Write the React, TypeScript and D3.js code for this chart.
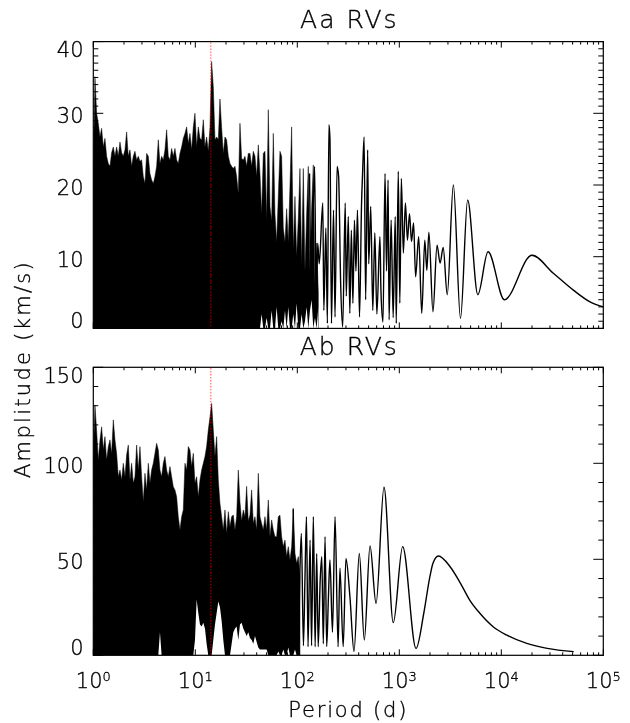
import React from "react";
import * as d3 from "d3";

// ---------- data ----------
// sampled periods (days) of the dense short-period part of both periodograms
const densePeriods = [
  1.000, 1.038, 1.078, 1.119, 1.162, 1.207, 1.253, 1.301, 1.351, 1.403,
  1.457, 1.512, 1.571, 1.631, 1.693, 1.758, 1.826, 1.896, 1.968, 2.044,
  2.122, 2.203, 2.288, 2.376, 2.467, 2.561, 2.660, 2.762, 2.867, 2.977,
  3.091, 3.210, 3.333, 3.461, 3.593, 3.731, 3.874, 4.023, 4.177, 4.337,
  4.503, 4.676, 4.855, 5.041, 5.235, 5.435, 5.644, 5.860, 6.085, 6.318,
  6.561, 6.812, 7.073, 7.345, 7.626, 7.918, 8.222, 8.537, 8.865, 9.205,
  9.558, 9.925, 10.31, 10.70, 11.11, 11.54, 11.98, 12.44, 12.91, 13.41,
  13.93, 14.46, 15.01, 15.59, 16.19, 16.81, 17.45, 18.12, 18.82, 19.54,
  20.29, 21.07, 21.88, 22.71, 23.58, 24.49, 25.42, 26.40, 27.41, 28.46,
  29.55, 30.69, 31.86, 33.08, 34.35, 35.67, 37.04, 38.46, 39.93, 41.46,
  43.05, 44.70, 46.42, 48.20, 50.05, 51.96, 53.96, 56.03, 58.17, 60.40,
  62.72, 65.12, 67.62, 70.21, 72.90, 75.70, 78.60, 81.61, 84.74, 87.99,
  91.36, 94.87, 98.51, 102.3, 106.2, 110.3, 114.5, 118.9, 123.5, 128.2,
  133.1, 138.2, 143.5, 149.0, 154.7, 160.7,
];

// Aa RVs: upper envelope of the dense part (km/s)
const aaUpper = [
  22, 35.1, 30.0, 28.6, 26.7, 27.9, 25.3, 26.5, 24.0, 23.0,
  22.6, 24.5, 25.3, 24.0, 25.3, 24.0, 26.0, 24.5, 24.0, 24.9,
  27.4, 24.0, 24.9, 22.6, 24.0, 24.7, 23.5, 24.0, 23.3, 23.5,
  21.2, 20.2, 24.4, 24.0, 21.6, 20.7, 20.2, 21.2, 22.6, 26.3,
  23.0, 24.0, 23.5, 24.9, 27.7, 24.0, 23.5, 25.1, 24.0, 25.1,
  23.5, 23.0, 24.4, 25.3, 26.5, 27.2, 28.1, 25.8, 27.2, 24.9,
  28.1, 30.0, 25.3, 28.1, 26.5, 26.3, 29.1, 25.3, 26.7, 24.7,
  28.0, 37.2, 33.7, 26.3, 26.7, 26.3, 32.0, 28.0, 24.4, 26.7,
  26.3, 24.0, 23.0, 22.6, 22.3, 22.6, 21.2, 18.8, 28.6, 23.7,
  23.5, 24.0, 22.6, 24.4, 24.4, 22.6, 24.7, 24.0, 21.2, 25.6,
  21.6, 16, 24.4, 24.7, 15, 30.5, 17, 15, 27.2, 16,
  12, 18.4, 24.7, 24.0, 14, 12, 16.7, 12, 19.8, 28.1,
  11, 18.4, 10, 15.3, 22.3, 9, 22.3, 8, 16.0, 22.6,
  8, 16.7, 22.8, 6, 11.9, 5,
];
// Aa RVs: height of the white gaps at the bottom of the dense part (km/s)
const aaGaps = [
  0, 0, 0, 0, 0, 0, 0, 0, 0, 0,
  0, 0, 0, 0, 0, 0, 0, 0, 0, 0,
  0, 0, 0, 0, 0, 0, 0, 0, 0, 0,
  0, 0, 0, 0, 0, 0, 0, 0, 0, 0,
  0, 0, 0, 0, 0, 0, 0, 0, 0, 0,
  0, 0, 0, 0, 0, 0, 0, 0, 0, 0,
  0, 0, 0, 0, 0, 0, 0, 0, 0, 0,
  0, 0, 0, 0, 0, 0, 0, 0, 0, 0,
  0, 0, 0, 0, 0, 0, 0, 0, 0, 0,
  0, 0, 0, 0, 0, 0, 0, 0, 0, 0,
  0, 2, 0, 0, 1.5, 0, 0, 2.5, 0, 0,
  3, 0, 0, 1, 0, 2.5, 0, 3, 0, 0,
  2, 0, 3.5, 0, 0, 2, 0, 1, 3, 0,
  2.5, 4, 0, 1.5, 0, 3,
];
// Aa RVs: long-period part (resolved peaks and troughs)
const aaLinePeriods = [
  131.8, 138.0, 142.9, 147.9, 153.1, 158.5, 164.1, 177.8, 182.0, 190.5,
  197.2, 204.2, 208.9, 216.3, 226.5, 234.4, 245.5, 254.1, 266.1, 278.6,
  295.1, 302.0, 316.2, 327.3, 338.8, 350.8, 363.1, 375.8, 389.0, 407.4,
  426.6, 436.5, 451.9, 467.7, 489.8, 501.2, 524.8, 549.5, 575.4, 602.6,
  645.7, 660.7, 691.8, 724.4, 749.9, 776.2, 794.3, 831.8, 871.0, 912.0,
  933.3, 977.2, 1012, 1047, 1096, 1148, 1202, 1259, 1318, 1380,
  1445, 1549, 1660, 1778, 1862, 1950, 2138, 2344, 2512, 2692,
  2951, 3388, 3981, 4677, 5888, 7413, 10715, 19953, 32359, 51286,
  74131, 100000,
];
const aaLineAmps = [
  21.6, 4, 16, 22.6, 2.5, 11.9, 9, 17.5, 2.5, 14,
  0.7, 28.4, 26.5, 0.7, 16.5, 1.6, 22.6, 21.2, 6.3, 0.2,
  17.5, 4.5, 15.6, 2.1, 13.7, 3.5, 15.1, 8.0, 16.5, 1.6,
  17.5, 21.6, 26.7, 4, 24.9, 9, 17, 2.5, 13.3, 2,
  12.8, 5.3, 0.9, 21.6, 8, 20.7, 1.2, 15.1, 1.5, 15.6,
  0.7, 21.9, 3.5, 20.9, 10.5, 17.5, 12.3, 16.0, 12.1, 14.7,
  7.2, 12.8, 2.1, 12.3, 8.1, 13.4, 2.3, 11.6, 9.1, 11.3,
  4.7, 20.0, 1.4, 17.9, 4.7, 10.7, 4.0, 10.2, 7.7, 5.3,
  3.7, 3.0,
];

// Ab RVs: upper envelope of the dense part (km/s), first 125 periods
const abUpper = [
  103.5, 130.4, 117, 101.7, 112, 119, 107, 113.9, 101.7, 108.6,
  112.2, 105, 122.6, 112.2, 105.2, 93, 96.5, 91.3, 100, 93,
  104.3, 109.5, 91.3, 100, 89.6, 93, 109.5, 96.5, 108.7, 93,
  80, 94.8, 86.1, 100, 89.6, 96.5, 100, 105.2, 110.4, 106.9,
  96.5, 93, 100, 103.5, 96.5, 93, 98.3, 93, 87.8, 86.1,
  82.6, 72.2, 65.3, 72.2, 75.7, 100, 96.5, 108.7, 106.9, 98.3,
  105.2, 89.6, 93, 82.6, 91.3, 96.5, 100, 103.5, 108.7, 117.3,
  124, 131.2, 117.3, 103.5, 113.9, 91.3, 79.1, 72.2, 65.3, 75.7,
  63.5, 74.8, 67.0, 72.2, 73.1, 65.3, 72.2, 96.5, 80, 70,
  75.7, 72.2, 88, 70, 73.1, 86.1, 68.7, 72.2, 65.3, 94.8,
  72.2, 68.7, 65.3, 72.2, 65.3, 80.9, 61.8, 70.5, 65.3, 61.8,
  61.8, 72.2, 73, 61.8, 56.6, 60, 51.4, 56.6, 49.6, 56.6,
  75.7, 53.1, 47.9, 51.4, 40.9,
];
// Ab RVs: height of the white gaps at the bottom of the dense part (km/s)
const abGaps = [
  0, 0, 0, 0, 0, 0, 0, 0, 0, 0,
  0, 0, 0, 0, 0, 0, 0, 0, 0, 0,
  0, 0, 0, 0, 0, 0, 0, 0, 0, 0,
  0, 0, 0, 0, 0, 0, 0, 0, 0, 0,
  12, 0, 0, 0, 0, 0, 0, 0, 0, 0,
  0, 0, 0, 0, 0, 0, 0, 0, 0, 0,
  0, 8, 29, 22, 16, 15, 17, 14, 6, 0,
  0, 0, 8, 16, 22, 28, 25, 18, 8, 0,
  0, 0, 0, 6, 12, 14, 15, 8, 16, 17,
  14, 12, 10, 12, 9, 8, 6, 10, 7, 4,
  3, 3, 3, 3, 3, 0, 0, 0, 0, 0,
  0, 2, 0, 0, 3, 0, 0, 4, 0, 0,
  0, 3, 0, 0, 0,
];
// Ab RVs: long-period part
const abLinePeriods = [
  91.2, 94.4, 97.7, 102.3, 106.2, 109.6, 114.8, 118.9, 123.0, 127.4,
  133.4, 138.0, 143.6, 149.6, 154.9, 160.3, 167.9, 173.8, 179.9, 187.1,
  194.1, 201.8, 208.9, 221.3, 234.4, 251.2, 261.8, 281.8, 299.9, 328.1,
  359.7, 405.5, 453.9, 516.4, 591.6, 707.9, 873.0, 1079, 1459, 1738,
  1995, 2138, 2415, 3162, 3981, 4898, 6166, 8318, 11220, 17783,
  28184, 51286,
];
const abLineAmps = [
  76.5, 20, 41, 4.5, 45, 63.5, 5, 40, 72.2, 4.5,
  60, 5, 72.2, 4.5, 53, 4.5, 40, 51.4, 6, 61.8,
  4.5, 30, 49.6, 12, 72.2, 4.5, 45.3, 4.5, 50.5, 30.5,
  1.9, 53, 8, 57, 27, 87.5, 17, 56.6, 3.6, 21.9,
  41, 48, 51.7, 46, 37.5, 28.8, 21.9, 14.9, 10.6, 6.2,
  3.6, 1.9,
];

const markedPeriod = 14.2;
const aaTicks = [0, 10, 20, 30, 40];
const abTicks = [0, 50, 100, 150];
const xTickExponents = [0, 1, 2, 3, 4, 5];

// ---------- layout ----------
const W = 630;
const H = 723;
const X0 = 93.3;
const X1 = 603.3;
const FONT = "'DejaVu Sans', 'Liberation Sans', sans-serif";
const TXT = { fontFamily: FONT, fontWeight: 200, fill: "#000", stroke: "#000", strokeWidth: 0.35 };

const x = d3.scaleLog().domain([1, 1e5]).range([X0, X1]);

type PanelProps = {
  id: string;
  top: number;
  bottom: number;
  yMax: number;
  minorStep: number;
  yTicks: number[];
  upper: number[];
  gaps: number[];
  linePeriods: number[];
  lineAmps: number[];
  title: string;
  titleBaseline: number;
  xLabels: boolean;
};

function Panel(p: PanelProps) {
  const y = d3.scaleLinear().domain([0, p.yMax]).range([p.bottom, p.top]);
  const area = d3
    .area<number>()
    .x((_, i) => x(densePeriods[i]))
    .y0(y(0))
    .y1((d) => y(d));
  const line = d3
    .line<number>()
    .x((_, i) => x(p.linePeriods[i]))
    .y((d) => y(d))
    .curve(d3.curveMonotoneX);

  const xt = x.ticks();
  const isMajor = (t: number) => Math.abs(Math.log10(t) - Math.round(Math.log10(t))) < 1e-9;
  const yMinor = d3.range(0, p.yMax + 1e-9, p.minorStep);
  const yMajLen = 10;
  const yMinLen = 5;
  const xMajLen = 6;
  const xMinLen = 3;
  const cx = (X0 + X1) / 2;

  return (
    <g>
      <defs>
        <clipPath id={`clip-${p.id}`}>
          <rect x={X0} y={p.top} width={X1 - X0} height={p.bottom - p.top} />
        </clipPath>
      </defs>
      <g clipPath={`url(#clip-${p.id})`}>
        <path d={area(p.upper) || ""} fill="#000" stroke="#000" strokeWidth={0.5} />
        <path d={area(p.gaps) || ""} fill="#fff" stroke="none" />
        <path d={line(p.lineAmps) || ""} fill="none" stroke="#000" strokeWidth={1.4} />
      </g>
      {/* frame */}
      <rect x={X0} y={p.top} width={X1 - X0} height={p.bottom - p.top} fill="none" stroke="#000" strokeWidth={1.2} />
      {/* x ticks on top and bottom */}
      {xt.map((t, i) => {
        const L = isMajor(t) ? xMajLen : xMinLen;
        const xx = x(t);
        return (
          <g key={`xt${i}`} stroke="#000" strokeWidth={1}>
            <line x1={xx} x2={xx} y1={p.bottom} y2={p.bottom - L} />
            <line x1={xx} x2={xx} y1={p.top} y2={p.top + L} />
          </g>
        );
      })}
      {/* y ticks on left and right */}
      {yMinor.map((v, i) => {
        const L = p.yTicks.some((t) => Math.abs(t - v) < 1e-9) ? yMajLen : yMinLen;
        const yy = y(v);
        return (
          <g key={`yt${i}`} stroke="#000" strokeWidth={1}>
            <line x1={X0} x2={X0 + L} y1={yy} y2={yy} />
            <line x1={X1} x2={X1 - L} y1={yy} y2={yy} />
          </g>
        );
      })}
      {/* marked period */}
      <line
        x1={x(markedPeriod)}
        x2={x(markedPeriod)}
        y1={p.top + 1}
        y2={p.bottom - 1}
        stroke="#ff0000"
        strokeWidth={1}
        strokeDasharray="1 2"
      />
      <g filter="url(#gray)">
        {/* y tick labels */}
        {p.yTicks.map((t, i) => {
          let base = y(t) + 10.1;
          if (i === p.yTicks.length - 1) base = p.top + 15.4;
          if (i === 0) base = p.bottom - 0.3;
          return (
            <text key={`yl${i}`} x={83.5} y={base} textAnchor="end" fontSize={21} {...TXT}>
              {t}
            </text>
          );
        })}
        {/* title */}
        <text x={cx + 1} y={p.titleBaseline} textAnchor="middle" fontSize={25} letterSpacing={2} {...TXT}>
          {p.title}
        </text>
        {p.xLabels &&
          xTickExponents.map((e) => (
            <text key={`xl${e}`} x={x(Math.pow(10, e))} y={688} textAnchor="middle" fontSize={21} {...TXT}>
              <tspan>10</tspan>
              <tspan dy={-7.5} fontSize={13}>
                {e}
              </tspan>
            </text>
          ))}
      </g>
    </g>
  );
}

export default function App() {
  return (
    <svg
      width={W}
      height={H}
      viewBox={`0 0 ${W} ${H}`}
      style={{ position: "absolute", left: 0, top: 0, background: "#fff" }}
    >
      <defs>
        <filter id="gray" x="-5%" y="-20%" width="110%" height="140%">
          <feColorMatrix type="saturate" values="0" />
        </filter>
      </defs>
      <rect x={0} y={0} width={W} height={H} fill="#fff" />
      <Panel
        id="aa"
        top={41.6}
        bottom={328.4}
        yMax={40}
        minorStep={1}
        yTicks={aaTicks}
        upper={aaUpper}
        gaps={aaGaps}
        linePeriods={aaLinePeriods}
        lineAmps={aaLineAmps}
        title="Aa RVs"
        titleBaseline={28.3}
        xLabels={false}
      />
      <Panel
        id="ab"
        top={367.3}
        bottom={655.3}
        yMax={150}
        minorStep={10}
        yTicks={abTicks}
        upper={abUpper}
        gaps={abGaps}
        linePeriods={abLinePeriods}
        lineAmps={abLineAmps}
        title="Ab RVs"
        titleBaseline={355}
        xLabels={true}
      />
      <g filter="url(#gray)">
        <text transform="translate(30,369) rotate(-90)" textAnchor="middle" fontSize={21} letterSpacing={2.3} {...TXT}>
          Amplitude (km/s)
        </text>
        <text x={348.3} y={716.7} textAnchor="middle" fontSize={21} letterSpacing={1.8} {...TXT}>
          Period (d)
        </text>
      </g>
    </svg>
  );
}
